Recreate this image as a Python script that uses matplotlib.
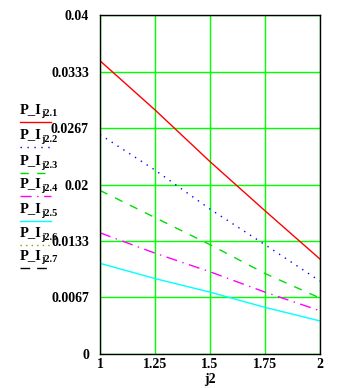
import numpy as np
import matplotlib
matplotlib.use("Agg")
import matplotlib.pyplot as plt
from matplotlib.lines import Line2D

# values
j2 = [1.0, 1.25, 1.5, 1.75, 2.0]
p1 = [0.0346, 0.0288, 0.0227, 0.0169, 0.0112]
p2 = [0.0259, 0.0217, 0.0171, 0.0129, 0.0086]
p3 = [0.0193, 0.0161, 0.0129, 0.0095, 0.0066]
p4 = [0.0143, 0.0119, 0.0097, 0.0073, 0.0051]
p5 = [0.0107, 0.0089, 0.0073, 0.0055, 0.0039]
p6 = []  # not visible in range
p7 = []

series = [p1, p2, p3, p4, p5, p6, p7]
names = ["1", "2", "3", "4", "5", "6", "7"]
colors = ["#ff0000", "#0000ff", "#00dd00", "#ff00ff", "#00ffff", "#999900", "#000000"]
styles = ["-", (0, (1, 4)), (0, (6, 6)), (0, (8, 4, 1, 4)), "-", (0, (1, 3)), (0, (7, 5))]

xticks = [1, 1.25, 1.5, 1.75, 2]
xticklabels = ["1", "1.25", "1.5", "1.75", "2"]
yticks = [0, 0.0067, 0.0133, 0.02, 0.0267, 0.0333, 0.04]
yticklabels = ["0", "0.0067", "0.0133", "0.02", "0.0267", "0.0333", "0.04"]

W, H = 345, 388
fig = plt.figure(figsize=(W / 100, H / 100), dpi=100)
ax = fig.add_axes([100 / W, 1 - 354 / H, 220 / W, 339 / H])

fnt = dict(family="Liberation Serif", weight="bold", size=10)

for s, c, ls in zip(series, colors, styles):
    if len(s):
        ax.plot(j2[:len(s)], s, color=c, linestyle=ls, linewidth=1.0)

ax.set_xlim(1, 2)
ax.set_ylim(0, 0.04)
ax.set_xticks(xticks)
ax.set_xticklabels(xticklabels, fontdict=fnt)
ax.set_yticks(yticks)
ax.set_yticklabels(yticklabels, fontdict=fnt)
ax.tick_params(axis="y", length=0, pad=8)
ax.tick_params(axis="x", length=0, pad=3)
ax.grid(True, color="#00ff00", linewidth=1.0)
ax.set_axisbelow(True)
for sp in ax.spines.values():
    sp.set_color("black")
    sp.set_linewidth(1.0)

ax.set_xlabel("j2", fontdict=fnt, labelpad=1)

# legend drawn Mathcad-style to the left of the axis
label_y = [110, 135, 161, 184, 209, 233, 256]
for i, (nm, c, ls) in enumerate(zip(names, colors, styles)):
    yt = label_y[i]
    fig.text(20 / W, 1 - yt / H, "P_I", ha="left", va="center",
             family="Liberation Serif", weight="bold", size=10.5)
    fig.text(41 / W, 1 - (yt + 4) / H, "j2." + nm, ha="left", va="center",
             family="Liberation Serif", weight="bold", size=7.5)
    ly = 1 - (yt + 12) / H
    fig.add_artist(Line2D([20 / W, 51 / W], [ly, ly], color=c, linestyle=ls,
                          linewidth=1.0, transform=fig.transFigure))

fig.savefig("out.png", dpi=100)
